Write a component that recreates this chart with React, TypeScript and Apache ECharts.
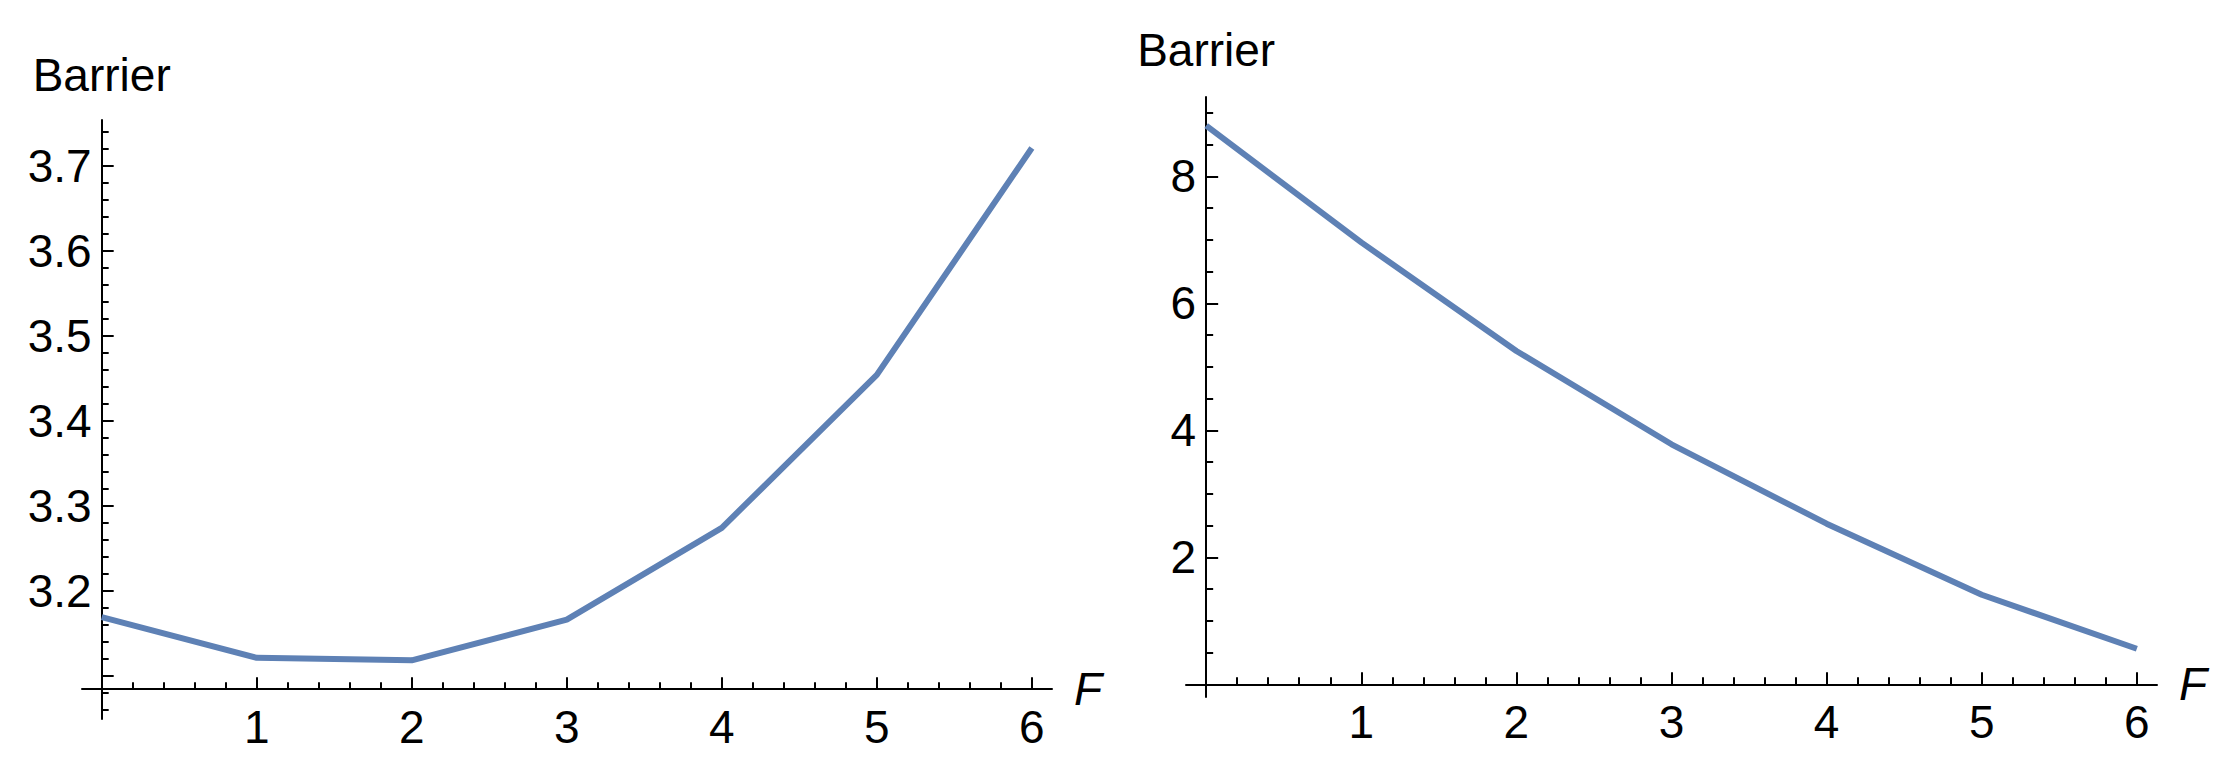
import React, { useEffect, useRef } from "react";
import * as echarts from "echarts";

// ---- data ----
const F = [0, 1, 2, 3, 4, 5, 6];
const barrierLeft = [3.169, 3.121, 3.118, 3.166, 3.274, 3.454, 3.721];
const barrierRight = [8.8, 6.96, 5.25, 3.78, 2.53, 1.41, 0.56];

const xTickValues = [1, 2, 3, 4, 5, 6];
const xLabelValues = [1, 2, 3, 4, 5, 6];
const leftYTickValues = [3.1, 3.2, 3.3, 3.4, 3.5, 3.6, 3.7];
const leftYLabelValues = [3.2, 3.3, 3.4, 3.5, 3.6, 3.7];
const rightYTickValues = [2, 4, 6, 8];
const rightYLabelValues = [2, 4, 6, 8];

// axis ranges (plot ranges of the two panels)
const leftX = [-0.127, 6.13];
const leftY = [3.049, 3.754];
const leftCrossY = 3.0841;
const rightX = [-0.13, 6.13];
const rightY = [-0.2, 9.25];
const rightCrossY = 0;

const FONT = "'Liberation Sans', Arial, sans-serif";
const LINE_COLOR = "#5E81B5";

const gridsPx = [
  { left: 82, top: 120, width: 970, height: 599 },
  { left: 1186, top: 97, width: 971, height: 600 },
];

function makeAxes(
  idx: number,
  xr: number[],
  yr: number[],
  crossY: number,
  yTicks: number[],
  yLabels: number[],
  yMinorSplit: number,
  ySplit: number,
  yDecimals: number,
  yNameGap: number
) {
  const g = gridsPx[idx];
  const xOffset = -((crossY - yr[0]) / (yr[1] - yr[0])) * g.height;
  const yOffset = -((0 - xr[0]) / (xr[1] - xr[0])) * g.width;
  const lineStyle = { color: "#000", width: 2 };
  const xAxis = {
    type: "value",
    gridIndex: idx,
    min: xr[0],
    max: xr[1],
    splitNumber: 6,
    position: "bottom",
    offset: xOffset,
    name: "F",
    nameLocation: "end",
    nameGap: 22,
    nameTextStyle: {
      fontFamily: FONT,
      fontSize: 46,
      fontStyle: "italic",
      color: "#000",
      verticalAlign: "middle",
    },
    axisLine: { show: true, onZero: false, lineStyle },
    axisTick: {
      show: true,
      inside: true,
      length: 12,
      lineStyle,
      customValues: xTickValues,
    },
    minorTick: { show: true, splitNumber: 5, length: 7, lineStyle },
    axisLabel: {
      show: true,
      margin: 15,
      fontFamily: FONT,
      fontSize: 46,
      color: "#000",
      customValues: xLabelValues,
      formatter: (v: number) => String(Math.round(v)),
    },
    splitLine: { show: false },
    minorSplitLine: { show: false },
  };
  const yAxis = {
    type: "value",
    gridIndex: idx,
    min: yr[0],
    max: yr[1],
    splitNumber: ySplit,
    position: "left",
    offset: yOffset,
    name: "Barrier",
    nameLocation: "end",
    nameGap: yNameGap,
    nameTextStyle: {
      fontFamily: FONT,
      fontSize: 46,
      color: "#000",
      align: "center",
    },
    axisLine: { show: true, onZero: false, lineStyle },
    axisTick: {
      show: true,
      inside: true,
      length: 12,
      lineStyle,
      customValues: yTicks,
    },
    minorTick: { show: true, splitNumber: yMinorSplit, length: 7, lineStyle },
    axisLabel: {
      show: true,
      margin: 10,
      fontFamily: FONT,
      fontSize: 46,
      color: "#000",
      customValues: yLabels,
      formatter: (v: number) => v.toFixed(yDecimals),
    },
    splitLine: { show: false },
    minorSplitLine: { show: false },
  };
  return { xAxis, yAxis };
}

export default function App() {
  const ref = useRef<HTMLDivElement>(null);
  useEffect(() => {
    if (!ref.current) return;
    const chart = echarts.init(ref.current, null, { renderer: "svg" });
    const a = makeAxes(0, leftX, leftY, leftCrossY, leftYTickValues, leftYLabelValues, 5, 7, 1, 22);
    const b = makeAxes(1, rightX, rightY, rightCrossY, rightYTickValues, rightYLabelValues, 4, 5, 0, 24);
    chart.setOption({
      animation: false,
      backgroundColor: "#ffffff",
      grid: gridsPx.map((g) => ({ ...g, containLabel: false, outerBoundsMode: "none" })),
      xAxis: [a.xAxis, b.xAxis],
      yAxis: [a.yAxis, b.yAxis],
      series: [
        {
          type: "line",
          xAxisIndex: 0,
          yAxisIndex: 0,
          data: F.map((f, i) => [f, barrierLeft[i]]),
          showSymbol: false,
          symbol: "none",
          lineStyle: { color: LINE_COLOR, width: 6 },
          itemStyle: { color: LINE_COLOR },
        },
        {
          type: "line",
          xAxisIndex: 1,
          yAxisIndex: 1,
          data: F.map((f, i) => [f, barrierRight[i]]),
          showSymbol: false,
          symbol: "none",
          lineStyle: { color: LINE_COLOR, width: 6 },
          itemStyle: { color: LINE_COLOR },
        },
      ],
    });
    return () => chart.dispose();
  }, []);
  return (
    <div
      ref={ref}
      style={{ position: "absolute", left: 0, top: 0, width: 2233, height: 768, background: "#fff" }}
    />
  );
}
